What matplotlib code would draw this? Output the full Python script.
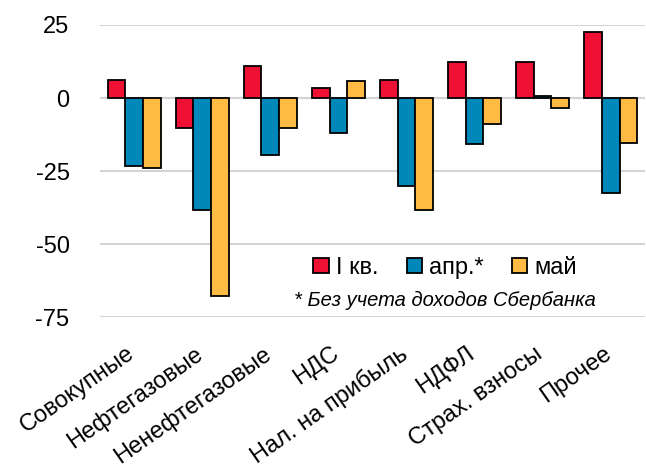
import numpy as np
import matplotlib
matplotlib.use("Agg")
import matplotlib.pyplot as plt

plt.rcParams['font.family'] = ['Liberation Sans', 'DejaVu Sans']

# Data
categories = ['Совокупные', 'Нефтегазовые', 'Ненефтегазовые', 'НДС',
              'Нал. на прибыль', 'НДФЛ', 'Страх. взносы', 'Прочее']
q1 = [6.3, -10.2, 11.1, 3.5, 6.2, 12.2, 12.2, 22.6]
apr = [-23.1, -38.4, -19.5, -11.9, -30.1, -15.6, 0.7, -32.5]
may = [-23.8, -67.7, -10.2, 5.7, -38.1, -9.0, -3.5, -15.5]
series_names = ['I кв.', 'апр.*', 'май']
colors = ['#EE1133', '#0088BB', '#FFBB44']
yticks = [25, 0, -25, -50, -75]

fig = plt.figure(figsize=(6.46, 4.75), dpi=100)
ax = fig.add_axes([0.155, 0.3316, 0.843, 0.6158])

x = np.arange(len(categories))
w = 0.26
for i, (vals, name) in enumerate(zip([q1, apr, may], series_names)):
    ax.bar(x + (i - 1) * w, vals, width=w, color=colors[i], edgecolor='black',
           linewidth=1.3, label=name, zorder=3)

ax.set_xlim(-0.5, len(categories) - 0.5)
ax.set_ylim(-75, 25)
ax.set_yticks(yticks)
ax.set_yticklabels([str(t) for t in yticks], fontsize=17)
ax.grid(axis='y', color='#D4D4D4', linewidth=1.5, zorder=0)
ax.axhline(0, color='#D4D4D4', linewidth=1.5, zorder=2)
for s in ax.spines.values():
    s.set_visible(False)
ax.tick_params(axis='y', length=0, pad=22)
ax.tick_params(axis='x', length=0, pad=18)

ax.set_xticks(x - 0.12)
ax.set_xticklabels(categories, fontsize=17, rotation=35, ha='right',
                   rotation_mode='anchor')

fig.legend(loc='center', bbox_to_anchor=(0.689, 0.436), ncol=3, frameon=False,
           fontsize=17, handlelength=0.65, handleheight=0.65, handletextpad=0.3,
           columnspacing=1.2)
fig.text(0.689, 0.368, '* Без учета доходов Сбербанка', fontsize=14.5,
         style='italic', ha='center', va='center')

fig.savefig('out.png', dpi=100)
